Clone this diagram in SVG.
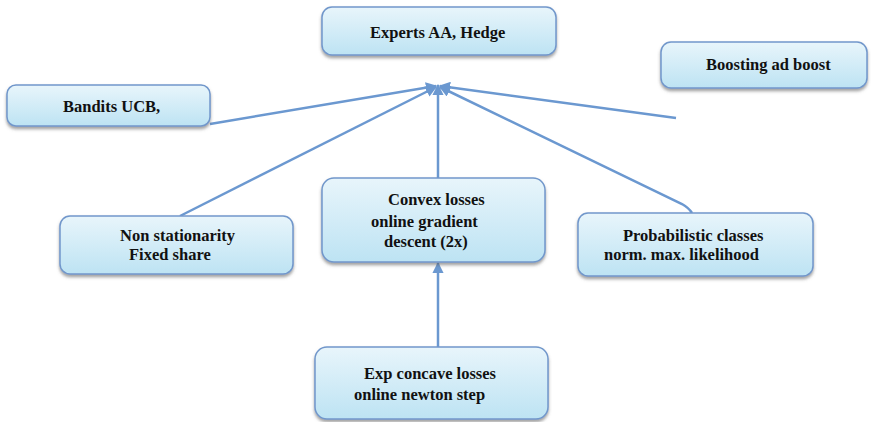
<svg xmlns="http://www.w3.org/2000/svg" width="872" height="422" viewBox="0 0 872 422">
<defs>
<linearGradient id="g" x1="0" y1="0" x2="0" y2="1">
<stop offset="0" stop-color="#e8f5fb"/>
<stop offset="1" stop-color="#bde3f3"/>
</linearGradient>
<filter id="sh" x="-10%" y="-20%" width="120%" height="150%">
<feDropShadow dx="0" dy="2.5" stdDeviation="1.5" flood-color="#555" flood-opacity="0.55"/>
</filter>
<marker id="ah" viewBox="0 0 10 10" refX="9" refY="5" markerWidth="4.5" markerHeight="4.5" orient="auto" markerUnits="strokeWidth">
<path d="M0,0 L10,5 L0,10 z" fill="#6b98d0"/>
</marker>
</defs>
<style>
.box{fill:url(#g);stroke:#7197cb;stroke-width:1.5;filter:url(#sh)}
.t{font-family:"Liberation Serif","Times New Roman",serif;font-weight:bold;font-size:16.5px;fill:#111}
.c{stroke:#6b98d0;stroke-width:2.5;fill:none}
</style>
<rect width="872" height="422" fill="#fff"/>
<g id="connectors">
<line class="c" x1="210" y1="124" x2="436" y2="86" marker-end="url(#ah)"/>
<line class="c" x1="676" y1="118" x2="440" y2="86" marker-end="url(#ah)"/>
<line class="c" x1="438" y1="178" x2="438" y2="85" marker-end="url(#ah)"/>
<line class="c" x1="180" y1="216" x2="436" y2="87" marker-end="url(#ah)"/>
<path class="c" d="M692,213 Q689,208 682,204 L440,87" marker-end="url(#ah)"/>
<line class="c" x1="438" y1="348" x2="438" y2="263" marker-end="url(#ah)"/>
</g>
<g id="experts">
<rect class="box" x="322" y="7" width="234" height="48" rx="10"/>
<text class="t" x="370" y="38">Experts AA, Hedge</text>
</g>
<g id="bandits">
<rect class="box" x="7" y="85" width="203" height="41" rx="9"/>
<text class="t" x="63" y="112">Bandits UCB,</text>
</g>
<g id="boosting">
<rect class="box" x="661" y="42" width="206" height="46" rx="10"/>
<text class="t" x="706" y="70">Boosting ad boost</text>
</g>
<g id="nonstationarity">
<rect class="box" x="60" y="216" width="233" height="58" rx="10"/>
<text class="t" x="120" y="241">Non stationarity</text>
<text class="t" x="129" y="260">Fixed share</text>
</g>
<g id="convex">
<rect class="box" x="322" y="178" width="223" height="84" rx="12"/>
<text class="t" x="388" y="205">Convex losses</text>
<text class="t" x="371" y="227">online gradient</text>
<text class="t" x="384" y="247">descent (2x)</text>
</g>
<g id="probabilistic">
<rect class="box" x="578" y="213" width="235" height="63" rx="10"/>
<text class="t" x="623" y="241">Probabilistic classes</text>
<text class="t" x="604" y="260">norm. max. likelihood</text>
</g>
<g id="expconcave">
<rect class="box" x="315" y="347" width="233" height="72" rx="12"/>
<text class="t" x="364" y="379">Exp concave losses</text>
<text class="t" x="354" y="400">online newton step</text>
</g>
</svg>
